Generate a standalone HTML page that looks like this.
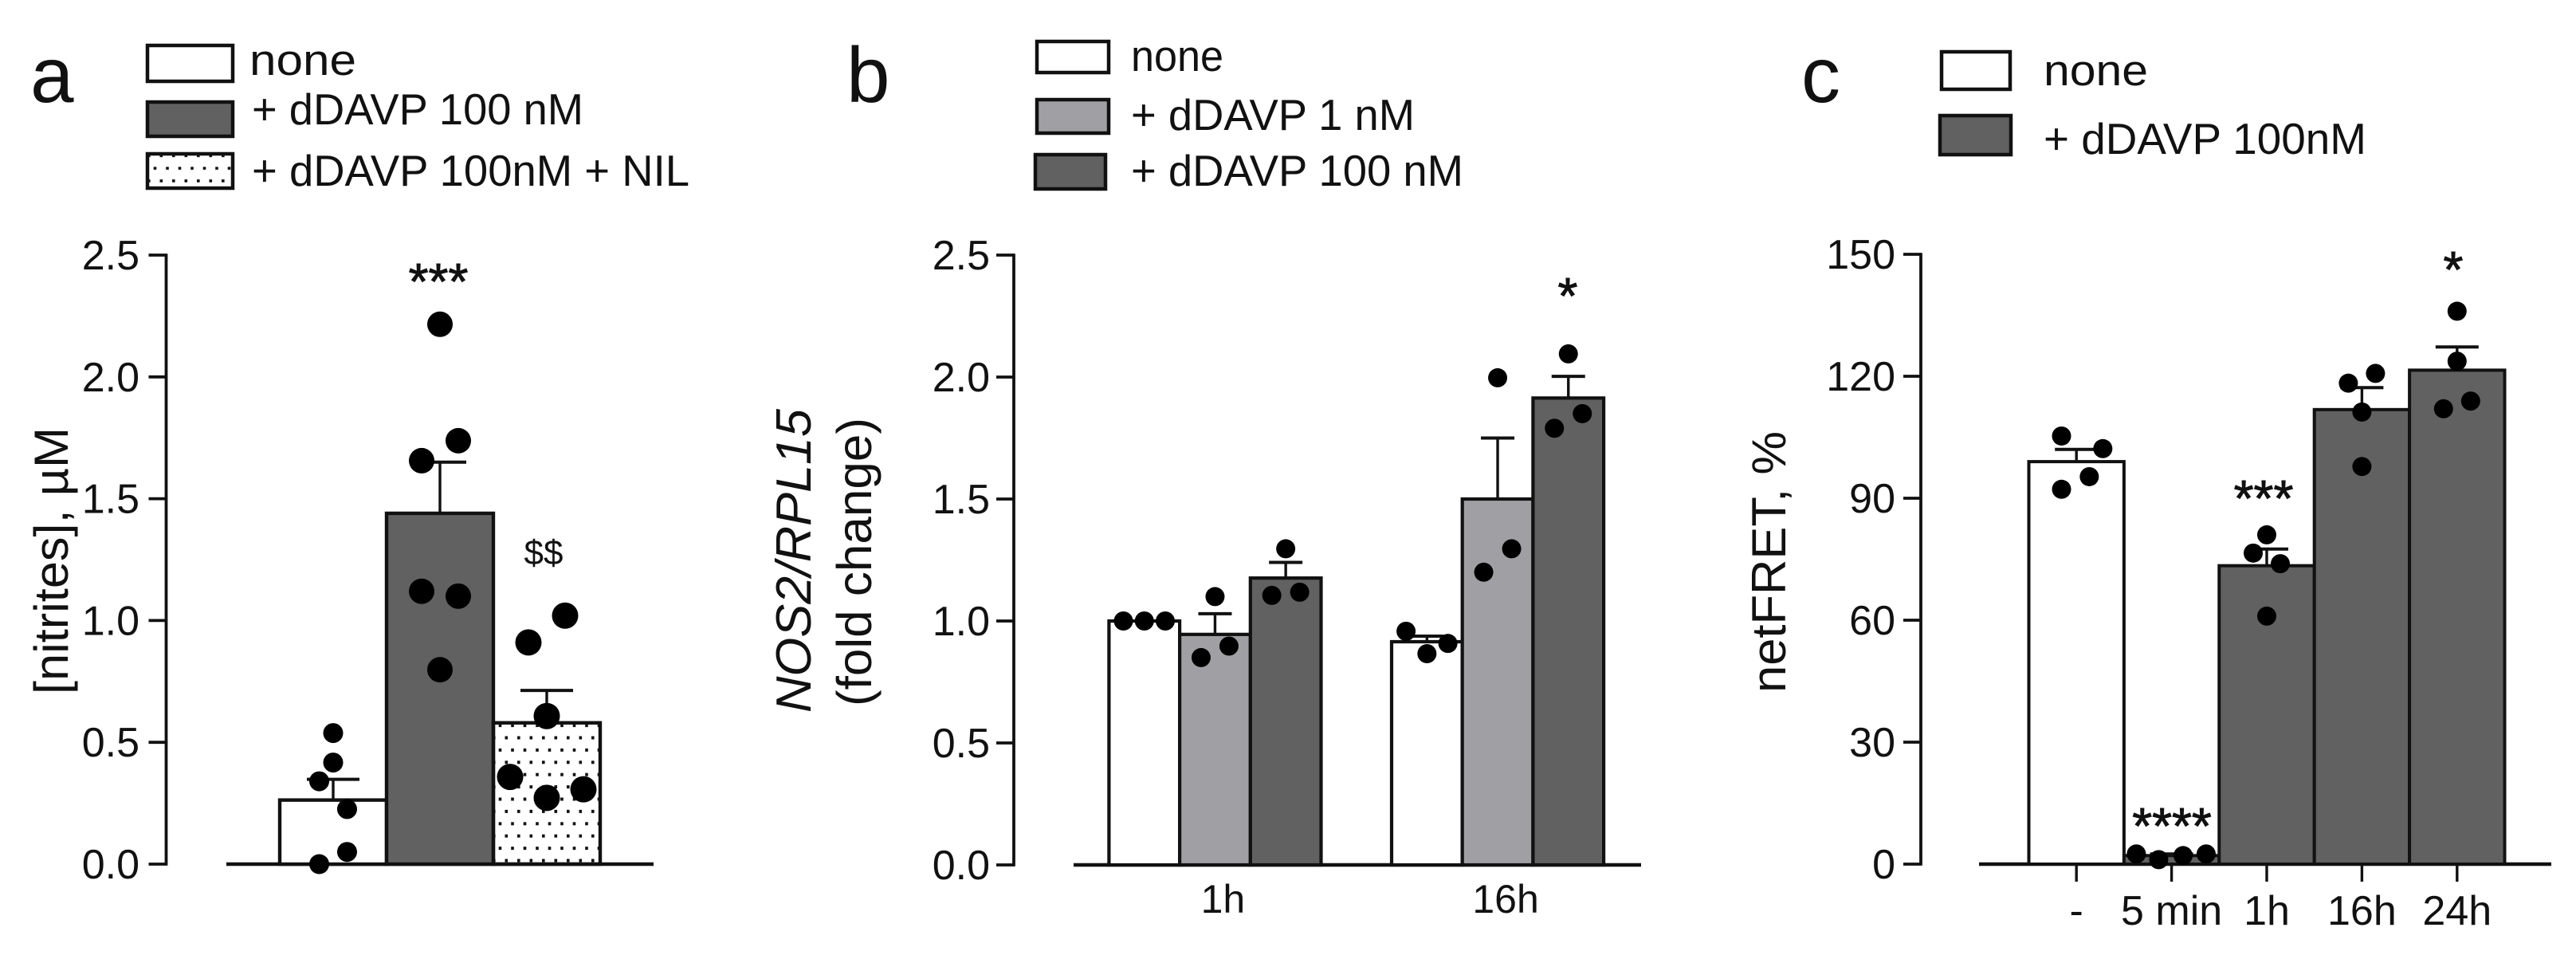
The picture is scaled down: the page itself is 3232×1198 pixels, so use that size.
<!DOCTYPE html>
<html lang="en">
<head>
<meta charset="utf-8">
<title>dDAVP nitrites, NOS2 and netFRET bar charts</title>
<style>
html,body{margin:0;padding:0;background:#fff;}
svg{display:block;}
text{font-family:"Liberation Sans",sans-serif;fill:#111;}
.sig{stroke:#111;stroke-width:1;}
</style>
</head>
<body>
<svg id="figure" xmlns="http://www.w3.org/2000/svg" width="3232" height="1198" viewBox="0 0 3232 1198">
  <defs>
    <pattern id="dots-bar" patternUnits="userSpaceOnUse" x="631" y="921" width="15.5" height="30.8">
      <rect x="2.5" y="2.5" width="3.6" height="4" fill="#111"/>
      <rect x="10.2" y="17.9" width="3.6" height="4" fill="#111"/>
    </pattern>
    <pattern id="dots-legend" patternUnits="userSpaceOnUse" x="198" y="191" width="15.5" height="31.6">
      <rect x="2.5" y="2.5" width="3.6" height="3.6" fill="#111"/>
      <rect x="10.2" y="18.3" width="3.6" height="3.6" fill="#111"/>
    </pattern>
  </defs>
  <rect width="3232" height="1198" fill="#fff"/>

  <text x="38" y="128" font-size="98">a</text>
  <text x="1062" y="128" font-size="98">b</text>
  <text x="2260" y="128" font-size="98">c</text>

  <g stroke="#111" stroke-width="4.5">
    <rect x="185" y="57" width="107" height="45" fill="#fff"/>
    <rect x="185" y="128" width="107" height="43" fill="#616161"/>
    <rect x="185" y="193" width="107" height="43" fill="url(#dots-legend)"/>
  </g>
  <g font-size="55">
    <text x="313" y="94" textLength="134" lengthAdjust="spacingAndGlyphs">none</text>
    <text x="316" y="156" textLength="416" lengthAdjust="spacingAndGlyphs">+ dDAVP 100 nM</text>
    <text x="316" y="233" textLength="549" lengthAdjust="spacingAndGlyphs">+ dDAVP 100nM + NIL</text>
  </g>

  <g stroke="#111" stroke-width="4.5">
    <rect x="1301" y="52" width="90" height="39" fill="#fff"/>
    <rect x="1301" y="125" width="90" height="42" fill="#a0a0a4"/>
    <rect x="1299" y="194" width="88" height="43" fill="#616161"/>
  </g>
  <g font-size="55">
    <text x="1419" y="89" textLength="116" lengthAdjust="spacingAndGlyphs">none</text>
    <text x="1419" y="163" textLength="356" lengthAdjust="spacingAndGlyphs">+ dDAVP 1 nM</text>
    <text x="1419" y="233" textLength="417" lengthAdjust="spacingAndGlyphs">+ dDAVP 100 nM</text>
  </g>

  <g stroke="#111" stroke-width="4.5">
    <rect x="2436" y="65" width="86" height="47" fill="#fff"/>
    <rect x="2434" y="145" width="89" height="49" fill="#616161"/>
  </g>
  <g font-size="55">
    <text x="2564" y="107" textLength="131" lengthAdjust="spacingAndGlyphs">none</text>
    <text x="2564" y="193" textLength="405" lengthAdjust="spacingAndGlyphs">+ dDAVP 100nM</text>
  </g>

  <text transform="translate(85,871) rotate(-90)" font-size="60" textLength="335" lengthAdjust="spacingAndGlyphs">[nitrites], µM</text>
  <text transform="translate(1017,894) rotate(-90)" font-size="62" font-style="italic" textLength="381" lengthAdjust="spacingAndGlyphs">NOS2/RPL15</text>
  <text transform="translate(1093,886) rotate(-90)" font-size="61" textLength="362" lengthAdjust="spacingAndGlyphs">(fold change)</text>
  <text transform="translate(2240,869) rotate(-90)" font-size="60" textLength="328" lengthAdjust="spacingAndGlyphs">netFRET, %</text>

  <g id="chart-a"></g>
  <g id="chart-b"></g>
  <g id="chart-c"></g>

  <g font-size="64" text-anchor="middle" class="sig">
    <text class="sig" x="550" y="375">***</text>
    <text class="sig" x="1967" y="393">*</text>
    <text class="sig" x="3078" y="360">*</text>
    <text class="sig" x="2840" y="647">***</text>
    <text class="sig" x="2725" y="1058">****</text>
  </g>
  <text x="682" y="708" font-size="44" text-anchor="middle">$$</text>
</svg>

<script>
// Panel a: nitrites (µM)
const aCategories = ['none', '+ dDAVP 100 nM', '+ dDAVP 100nM + NIL'];
const aMeans = [0.263, 1.44, 0.58];
const aSem = [0.085, 0.21, 0.133];
const aPoints = [
  [0.538, 0.417, 0.34, 0.226, 0.05, 0.0],
  [2.216, 1.738, 1.656, 1.12, 1.10, 0.798],
  [1.02, 0.91, 0.608, 0.358, 0.307, 0.272]
];
const aSwarmSlots = [
  [0, 0, -0.76, 0.76, 0.76, -0.76],
  [0, 1, -1, -1, 1, 0],
  [1, -1, 0, -2, 2, 0]
];
const aYTicks = ['0.0', '0.5', '1.0', '1.5', '2.0', '2.5'];

// Panel b: NOS2/RPL15 fold change, one row per time group
const bGroups = ['1h', '16h'];
const bSeries = ['none', '+ dDAVP 1 nM', '+ dDAVP 100 nM'];
const bMeans = [
  [1.0, 0.945, 1.176],
  [0.915, 1.5, 1.914]
];
const bSem = [
  [0, 0.085, 0.064],
  [0.023, 0.25, 0.089]
];
const bPoints = [
  [[1.0, 1.0, 1.0], [1.10, 0.897, 0.85], [1.296, 1.118, 1.105]],
  [[0.958, 0.908, 0.866], [1.997, 1.296, 1.2], [2.095, 1.85, 1.79]]
];
const bSwarmSlots = [
  [[-1.5, 0, 1.5], [0, 1, -1], [0, 1, -1]],
  [[-1.5, 1.5, 0], [0, 1, -1], [0, 1, -1]]
];
const bYTicks = ['0.0', '0.5', '1.0', '1.5', '2.0', '2.5'];

// Panel c: netFRET (%)
const cCategories = ['-', '5 min', '1h', '16h', '24h'];
const cMeans = [99.0, 2.1, 73.4, 111.8, 121.5];
const cSem = [3.0, 0.4, 4.1, 5.4, 5.7];
const cPoints = [
  [105.3, 102.2, 95.3, 92.2],
  [2.5, 1.1, 2.1, 2.5],
  [81, 76.5, 73.9, 61],
  [120.7, 118.3, 111.2, 97.8],
  [136, 123.7, 113.9, 112]
];
const cSwarmSlots = [
  [-1.1, 1.95, 0.95, -1.1],
  [-2.6, -0.95, 0.85, 2.55],
  [0, -1, 1, 0],
  [1, -1, 0, 0],
  [0, 0, 1, -1]
];
const cYTicks = ['0', '30', '60', '90', '120', '150'];

const SVG_NS = 'http://www.w3.org/2000/svg';
const INK = '#111';
const DARK = '#616161';
const MID = '#a0a0a4';

function make(tag, attrs, parent, content) {
  const node = document.createElementNS(SVG_NS, tag);
  Object.keys(attrs).forEach(function (k) { node.setAttribute(k, attrs[k]); });
  if (content !== undefined) node.textContent = content;
  parent.appendChild(node);
  return node;
}

// Draws y axis, x axis and tick labels shared by every panel
function drawAxes(root, cfg) {
  const yAxis = make('line', { x1: cfg.axisX, x2: cfg.axisX, y1: cfg.yScale(cfg.yMax) - 1.7, y2: cfg.yScale(0) + 1.7, stroke: INK, 'stroke-width': 3.8 }, root);
  
  
  const xAxis = make('line', { x1: cfg.xAxisStart, x2: cfg.xAxisEnd, y1: cfg.yScale(0), y2: cfg.yScale(0), stroke: INK, 'stroke-width': 4.4 }, root);
  
  
  cfg.yTicks.forEach(function (label) {
    const y = cfg.yScale(parseFloat(label));
    const tick = make('line', { x1: cfg.axisX - 22, x2: cfg.axisX, y1: y, y2: y, stroke: INK, 'stroke-width': 3.8 }, root);
    
    
    const text = make('text', { x: cfg.labelRight, y: y + 18, 'font-size': 52, 'text-anchor': 'end' }, root, label);
    
    
  });
}

function drawBar(root, cfg, x, width, mean, sem, fill, values, slots, radius, slotUnit, capW) {
  const top = cfg.yScale(mean);
  const base = cfg.yScale(0);
  const bar = make('rect', { x: x, y: top, width: width, height: base - top, fill: fill, stroke: INK, 'stroke-width': cfg.barStroke }, root);
  
  
  const cx = x + width / 2;
  if (sem > 0) {
    const errTop = cfg.yScale(mean + sem);
    const stem = make('line', { x1: cx, x2: cx, y1: top, y2: errTop, stroke: INK, 'stroke-width': 3.4 }, root);
    
    
    const cap = make('line', { x1: cx - capW / 2, x2: cx + capW / 2, y1: errTop, y2: errTop, stroke: INK, 'stroke-width': 4 }, root);
    
    
  }
  cfg.pointQueue.push({ values: values, slots: slots, cx: cx, radius: radius, slotUnit: slotUnit });
}

function drawPoints(root, cfg) {
  cfg.pointQueue.forEach(function (group) {
    group.values.forEach(function (v, i) {
      const dot = make('circle', { cx: group.cx + group.slots[i] * group.slotUnit, cy: cfg.yScale(v), r: group.radius, fill: '#000' }, root);
      
      
    });
  });
}

function linearY(y0, yTop, max) {
  return function (v) { return y0 - v * (y0 - yTop) / max; };
}

// ---- panel a ----
(function () {
  const root = document.getElementById('chart-a');
  const cfg = { axisX: 208.5, labelRight: 175, xAxisStart: 284, xAxisEnd: 820, yMax: 2.5, yScale: linearY(1084, 320, 2.5), yTicks: aYTicks, barStroke: 4.4, pointQueue: [] };
  const fills = ['#fff', DARK, 'url(#dots-bar)'];
  const radii = [12.5, 16, 16.5];
  const barW = 134;
  drawAxes(root, cfg);
  aCategories.forEach(function (name, i) {
    drawBar(root, cfg, 351 + i * barW, barW, aMeans[i], aSem[i], fills[i], aPoints[i], aSwarmSlots[i], radii[i], 23, 66);
  });
  drawPoints(root, cfg);
})();

// ---- panel b ----
(function () {
  const root = document.getElementById('chart-b');
  const cfg = { axisX: 1272, labelRight: 1242, xAxisStart: 1347, xAxisEnd: 2059, yMax: 2.5, yScale: linearY(1085, 320, 2.5), yTicks: bYTicks, barStroke: 4.2, pointQueue: [] };
  const fills = ['#fff', MID, DARK];
  const barW = 88.7;
  const groupStep = 354.6;
  drawAxes(root, cfg);
  bGroups.forEach(function (groupName, g) {
    const start = 1391.4 + g * groupStep;
    bSeries.forEach(function (seriesName, s) {
      drawBar(root, cfg, start + s * barW, barW, bMeans[g][s], bSem[g][s], fills[s], bPoints[g][s], bSwarmSlots[g][s], 12, 17.5, 42);
    });
    const label = make('text', { x: start + 1.5 * barW + 10, y: 1145, 'font-size': 50, 'text-anchor': 'middle' }, root, groupName);
    
    
  });
  drawPoints(root, cfg);
})();

// ---- panel c ----
(function () {
  const root = document.getElementById('chart-c');
  const cfg = { axisX: 2410, labelRight: 2378, xAxisStart: 2483, xAxisEnd: 3201, yMax: 150, yScale: linearY(1084, 319, 150), yTicks: cYTicks, barStroke: 4, pointQueue: [] };
  const fills = ['#fff', DARK, DARK, DARK, DARK];
  const barW = 119.4;
  drawAxes(root, cfg);
  cCategories.forEach(function (name, i) {
    const x = 2545.5 + i * barW;
    const cx = x + barW / 2;
    drawBar(root, cfg, x, barW, cMeans[i], cSem[i], fills[i], cPoints[i], cSwarmSlots[i], 12, 17, 54);
    const tick = make('line', { x1: cx, x2: cx, y1: 1084, y2: 1106, stroke: INK, 'stroke-width': 3.4 }, root);
    
    
    const label = make('text', { x: cx, y: 1160, 'font-size': 52, 'text-anchor': 'middle' }, root, name);
    
    
  });
  drawPoints(root, cfg);
})();
</script>
</body>
</html>
